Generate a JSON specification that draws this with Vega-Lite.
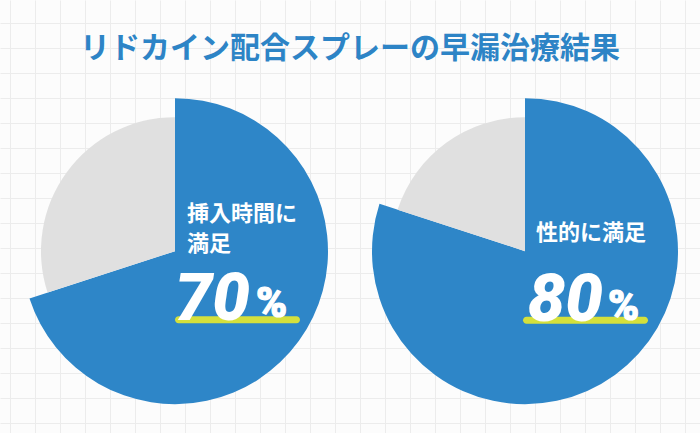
{
  "$schema": "https://vega.github.io/schema/vega-lite/v6.json",
  "width": 700,
  "height": 433,
  "autosize": {"type": "fit", "contains": "padding"},
  "padding": 0,
  "background": "#fcfcfc",
  "config": {"view": {"stroke": null}},
  "resolve": {"scale": {"x": "independent", "y": "independent"}, "axis": {"x": "independent", "y": "independent"}},
  "layer": [
    {
      "data": {"values": [{"g": 0}]},
      "mark": {"type": "point", "opacity": 0},
      "encoding": {
        "x": {"datum": 0, "type": "quantitative", "scale": {"domain": [-10, 690], "nice": false, "zero": false},
          "axis": {"values": [0,25,50,75,100,125,150,175,200,225,250,275,300,325,350,375,400,425,450,475,500,525,550,575,600,625,650,675], "grid": true, "gridColor": "#ececec", "gridWidth": 1, "labels": false, "ticks": false, "domain": false, "title": null}},
        "y": {"datum": 0, "type": "quantitative", "scale": {"domain": [-23, 410], "nice": false, "zero": false, "reverse": true},
          "axis": {"values": [0,25,50,75,100,125,150,175,200,225,250,275,300,325,350,375,400], "grid": true, "gridColor": "#ececec", "gridWidth": 1, "labels": false, "ticks": false, "domain": false, "title": null}}
      }
    },
    {
      "data": {"values": [
        {"panel": "挿入時間に満足", "category": "満足", "value": 70, "label": "挿入時間に\n満足", "pct": "70"},
        {"panel": "挿入時間に満足", "category": "その他", "value": 30, "label": "挿入時間に\n満足", "pct": "70"},
        {"panel": "性的に満足", "category": "満足", "value": 80, "label": "性的に満足", "pct": "80"},
        {"panel": "性的に満足", "category": "その他", "value": 20, "label": "性的に満足", "pct": "80"}
      ]},
      "encoding": {
        "x": {"field": "panel", "type": "nominal", "scale": {"type": "point", "domain": ["挿入時間に満足", "性的に満足"]}, "axis": null},
        "y": {"datum": "pie", "type": "nominal", "scale": {"type": "point", "align": 0.58}, "axis": null}
      },
      "layer": [
        {
          "transform": [{"stack": "value", "groupby": ["panel"], "sort": [{"field": "category", "order": "descending"}], "as": ["v0", "v1"]}],
          "encoding": {
            "theta": {"field": "v0", "type": "quantitative", "scale": {"domain": [0, 100]}},
            "theta2": {"field": "v1"}
          },
          "layer": [
            {"transform": [{"filter": "datum.category === '満足'"}], "mark": {"type": "arc", "radius": 153, "color": "#2e86c8"}},
            {"transform": [{"filter": "datum.category === 'その他'"}], "mark": {"type": "arc", "radius": 134, "color": "#e0e0e0"}}
          ]
        },
        {
          "transform": [{"filter": "datum.category === '満足' && datum.panel === '挿入時間に満足'"}],
          "mark": {"type": "point", "filled": true, "opacity": 1, "color": "#d4e03c", "strokeWidth": 0, "size": 15625, "xOffset": 62.5, "yOffset": 68.5,
            "shape": "M -0.944 -0.056 L 0.944 -0.056 A 0.056 0.056 0 0 1 0.944 0.056 L -0.944 0.056 A 0.056 0.056 0 0 1 -0.944 -0.056 Z"}
        },
        {
          "transform": [{"filter": "datum.category === '満足' && datum.panel === '性的に満足'"}],
          "mark": {"type": "point", "filled": true, "opacity": 1, "color": "#d4e03c", "strokeWidth": 0, "size": 15625, "xOffset": 60.5, "yOffset": 69,
            "shape": "M -0.944 -0.056 L 0.944 -0.056 A 0.056 0.056 0 0 1 0.944 0.056 L -0.944 0.056 A 0.056 0.056 0 0 1 -0.944 -0.056 Z"}
        },
        {
          "transform": [{"filter": "datum.category === '満足' && datum.panel === '挿入時間に満足'"}],
          "mark": {"type": "text", "align": "left", "baseline": "top", "dx": 12, "dy": -47, "lineBreak": "\n", "lineHeight": 30, "font": "Noto Sans CJK JP", "fontWeight": "bold", "fontSize": 22, "color": "#ffffff"},
          "encoding": {"text": {"field": "label"}}
        },
        {
          "transform": [{"filter": "datum.category === '満足' && datum.panel === '性的に満足'"}],
          "mark": {"type": "text", "align": "left", "baseline": "top", "dx": 11, "dy": -28, "font": "Noto Sans CJK JP", "fontWeight": "bold", "fontSize": 22, "color": "#ffffff"},
          "encoding": {"text": {"field": "label"}}
        },
        {
          "transform": [{"filter": "datum.category === '満足' && datum.panel === '挿入時間に満足'"}],
          "mark": {"type": "text", "align": "right", "baseline": "alphabetic", "dx": 75, "dy": 69, "font": "Roboto", "fontWeight": 900, "fontStyle": "italic", "fontSize": 67, "color": "#ffffff"},
          "encoding": {"text": {"field": "pct"}}
        },
        {
          "transform": [{"filter": "datum.category === '満足' && datum.panel === '性的に満足'"}],
          "mark": {"type": "text", "align": "right", "baseline": "alphabetic", "dx": 78, "dy": 70, "font": "Roboto", "fontWeight": 900, "fontStyle": "italic", "fontSize": 67, "color": "#ffffff"},
          "encoding": {"text": {"field": "pct"}}
        },
        {
          "transform": [{"filter": "datum.category === '満足' && datum.panel === '挿入時間に満足'"}],
          "mark": {"type": "text", "align": "left", "baseline": "alphabetic", "dx": 81, "dy": 66, "font": "Roboto", "fontWeight": 900, "fontSize": 42, "color": "#ffffff", "stroke": "#ffffff", "strokeWidth": 1.2, "text": "%"}
        },
        {
          "transform": [{"filter": "datum.category === '満足' && datum.panel === '性的に満足'"}],
          "mark": {"type": "text", "align": "left", "baseline": "alphabetic", "dx": 83, "dy": 69, "font": "Roboto", "fontWeight": 900, "fontSize": 42, "color": "#ffffff", "stroke": "#ffffff", "strokeWidth": 1.2, "text": "%"}
        },
        {
          "data": {"values": [{"title": "リドカイン配合スプレーの早漏治療結果"}]},
          "mark": {"type": "text", "align": "center", "baseline": "middle", "dy": -202, "font": "Noto Sans CJK JP", "fontWeight": "bold", "fontSize": 30, "color": "#2d84c6"},
          "encoding": {"x": null, "text": {"field": "title"}}
        }
      ]
    }
  ]
}
